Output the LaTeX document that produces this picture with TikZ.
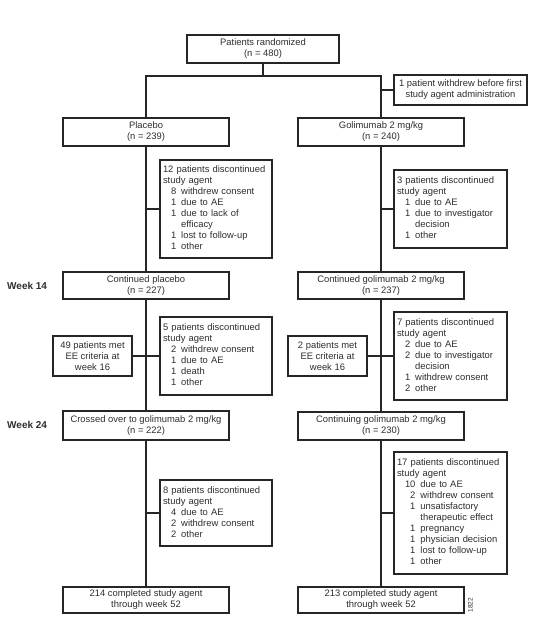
\documentclass[tikz,border=0pt]{standalone}
\usepackage{fontspec}
\setmainfont{Liberation Sans}
\usepackage{array}
\definecolor{ln}{HTML}{262626}
\definecolor{tx}{HTML}{2E2E2E}
\newcommand{\hd}[1]{\multicolumn{2}{@{}l@{}}{#1}}
\newenvironment{lst}{\begin{tabular}{@{\hspace{8pt}}r@{\hspace{5pt}}l@{}}}{\end{tabular}}
\tikzset{
  box/.style={draw=ln, line width=1.7pt, fill=white, text=tx, align=center,
    inner sep=2pt, font=\fontsize{9.4}{11}\selectfont},
  lbox/.style={box, align=left, inner xsep=3pt},
  conn/.style={draw=ln, line width=1.7pt},
  week/.style={font=\fontsize{10}{12}\selectfont\bfseries, text=tx, anchor=west, inner sep=0pt},
}
\begin{document}
\begin{tikzpicture}[x=1pt,y=-1pt]
\useasboundingbox[fill=white] (0,0) rectangle (554,627);

% main column boxes
\node[box, minimum width=152, minimum height=28] (top) at (263,49) {Patients randomized\\(n = 480)};
\node[box, minimum width=133, minimum height=30] (wd) at (460.5,90) {1 patient withdrew before first\\study agent administration};
\node[box, minimum width=166, minimum height=28] (pl) at (146,132) {Placebo\\(n = 239)};
\node[box, minimum width=166, minimum height=28] (go) at (381,132) {Golimumab 2 mg/kg\\(n = 240)};
\node[box, minimum width=166, minimum height=27] (cp) at (146,285.5) {Continued placebo\\(n = 227)};
\node[box, minimum width=166, minimum height=27] (cg) at (381,285.5) {Continued golimumab 2 mg/kg\\(n = 237)};
\node[box, minimum width=166, minimum height=29] (xo) at (146,425.5) {Crossed over to golimumab 2 mg/kg\\(n = 222)};
\node[box, minimum width=166, minimum height=28] (cg2) at (381,426) {Continuing golimumab 2 mg/kg\\(n = 230)};
\node[box, minimum width=166, minimum height=26] (c214) at (146,600) {214 completed study agent\\through week 52};
\node[box, minimum width=166, minimum height=26] (c213) at (381,600) {213 completed study agent\\through week 52};

% EE boxes
\node[box, minimum width=79, minimum height=40] (ee49) at (92.5,356) {49 patients met\\EE criteria at\\week 16};
\node[box, minimum width=79, minimum height=40] (ee2) at (327.5,356) {2 patients met\\EE criteria at\\week 16};

% discontinuation boxes
\node[lbox, text width=106, minimum height=98] (d12) at (216,209) {\begin{lst}
\hd{12 patients discontinued}\\ \hd{study agent}\\
8 & withdrew consent\\ 1 & due to AE\\ 1 & due to lack of\\ & efficacy\\
1 & lost to follow-up\\ 1 & other\end{lst}};
\node[lbox, text width=107, minimum height=78] (d3) at (450.5,209) {\begin{lst}
\hd{3 patients discontinued}\\ \hd{study agent}\\
1 & due to AE\\ 1 & due to investigator\\ & decision\\ 1 & other\end{lst}};
\node[lbox, text width=106, minimum height=78] (d5) at (216,356) {\begin{lst}
\hd{5 patients discontinued}\\ \hd{study agent}\\
2 & withdrew consent\\ 1 & due to AE\\ 1 & death\\ 1 & other\end{lst}};
\node[lbox, text width=107, minimum height=88] (d7) at (450.5,356) {\begin{lst}
\hd{7 patients discontinued}\\ \hd{study agent}\\
2 & due to AE\\ 2 & due to investigator\\ & decision\\ 1 & withdrew consent\\ 2 & other\end{lst}};
\node[lbox, text width=106, minimum height=66] (d8) at (216,513) {\begin{lst}
\hd{8 patients discontinued}\\ \hd{study agent}\\
4 & due to AE\\ 2 & withdrew consent\\ 2 & other\end{lst}};
\node[lbox, text width=107, minimum height=122] (d17) at (450.5,513) {\begin{lst}
\hd{17 patients discontinued}\\ \hd{study agent}\\
10 & due to AE\\ 2 & withdrew consent\\ 1 & unsatisfactory\\ & therapeutic effect\\
1 & pregnancy\\ 1 & physician decision\\ 1 & lost to follow-up\\ 1 & other\end{lst}};

% week labels
\node[week] (w14) at (7,286) {Week 14};
\node[week] (w24) at (7,425) {Week 24};
\node[rotate=90, text=tx, font=\fontsize{6.5}{7}\selectfont, inner sep=0pt] (id) at (470.5,605) {1822};

% connectors
\coordinate (j) at (263,76);
\draw[conn] (top.south) -- (j);
\draw[conn] (pl.north) -- (pl.north |- j) -- (go.north |- j) -- (go.north);
\draw[conn] (wd.west) -- (wd.west -| go.north);
\draw[conn] (pl.south) -- (cp.north);
\draw[conn] (go.south) -- (cg.north);
\draw[conn] (d12.west) -- (d12.west -| pl.south);
\draw[conn] (d3.west) -- (d3.west -| go.south);
\draw[conn] (cp.south) -- (xo.north);
\draw[conn] (cg.south) -- (cg2.north);
\draw[conn] (ee49.east) -- (d5.west);
\draw[conn] (ee2.east) -- (ee2.east -| d7.west);
\draw[conn] (xo.south) -- (c214.north);
\draw[conn] (cg2.south) -- (c213.north);
\draw[conn] (d8.west) -- (d8.west -| xo.south);
\draw[conn] (d17.west) -- (d17.west -| cg2.south);
\end{tikzpicture}
\end{document}
